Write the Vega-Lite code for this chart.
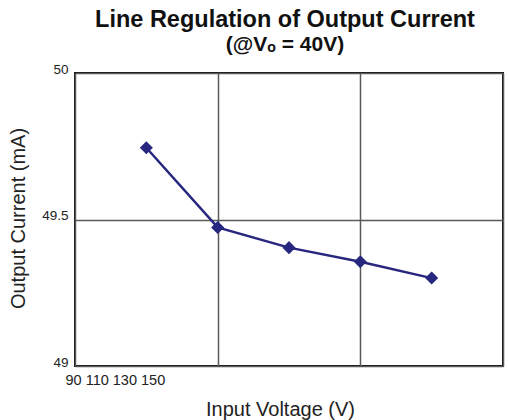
{
  "$schema": "https://vega.github.io/schema/vega-lite/v6.json",
  "width": 428,
  "height": 293,
  "autosize": "none",
  "padding": {"left": 75, "top": 73, "right": 6, "bottom": 54},
  "background": "white",
  "config": {
    "font": "Liberation Sans",
    "view": {"stroke": "#111111", "strokeWidth": 2}
  },
  "title": {
    "text": "Line Regulation of Output Current",
    "subtitle": "(@Vₒ = 40V)",
    "font": "Liberation Sans",
    "fontSize": 23.5,
    "fontWeight": "bold",
    "color": "#111111",
    "subtitleFont": "Liberation Sans",
    "subtitleFontSize": 21,
    "subtitleFontWeight": "bold",
    "subtitleColor": "#111111",
    "subtitlePadding": 3,
    "anchor": "middle",
    "dx": -4,
    "offset": 7
  },
  "data": {
    "values": [
      {"voltage": 100, "current": 49.745},
      {"voltage": 110, "current": 49.473},
      {"voltage": 120, "current": 49.404},
      {"voltage": 130, "current": 49.356},
      {"voltage": 140, "current": 49.300}
    ]
  },
  "mark": {
    "type": "line",
    "color": "#27277f",
    "strokeWidth": 2.5,
    "point": {"shape": "diamond", "size": 170, "filled": true, "color": "#27277f", "opacity": 1}
  },
  "encoding": {
    "x": {
      "field": "voltage",
      "type": "quantitative",
      "scale": {"domain": [90, 150], "nice": false, "zero": false},
      "axis": {
        "values": [90, 110, 130, 150],
        "labelExpr": "datum.value == 90 ? '90 110 130 150' : ''",
        "labelAlign": "left",
        "labelOffset": -10,
        "labelFlush": false,
        "labelOverlap": false,
        "labelBaseline": "top",
        "labelPadding": 7,
        "labelFontSize": 14.5,
        "labelColor": "#222222",
        "domain": false,
        "ticks": false,
        "grid": true,
        "gridColor": "#5a5a5a",
        "gridWidth": 1.5,
        "gridOpacity": 1,
        "title": "Input Voltage (V)",
        "titleFontSize": 20,
        "titleFontWeight": "normal",
        "titleColor": "#222222",
        "titleX": 205,
        "titleY": 49,
        "titleAlign": "center",
        "titleBaseline": "alphabetic"
      }
    },
    "y": {
      "field": "current",
      "type": "quantitative",
      "scale": {"domain": [49, 50], "nice": false, "zero": false},
      "axis": {
        "values": [49, 49.5, 50],
        "format": "~g",
        "labelFontSize": 13.5,
        "labelColor": "#222222",
        "labelBaseline": "alphabetic",
        "labelPadding": 7,
        "labelFlush": false,
        "labelOverlap": false,
        "domain": false,
        "ticks": false,
        "grid": true,
        "gridColor": "#5a5a5a",
        "gridWidth": 1.5,
        "gridOpacity": 1,
        "title": "Output Current (mA)",
        "titleFontSize": 20,
        "titleFontWeight": "normal",
        "titleColor": "#222222",
        "titleAngle": 270,
        "titleX": -57,
        "titleY": 145,
        "titleAlign": "center",
        "titleBaseline": "middle"
      }
    }
  }
}
